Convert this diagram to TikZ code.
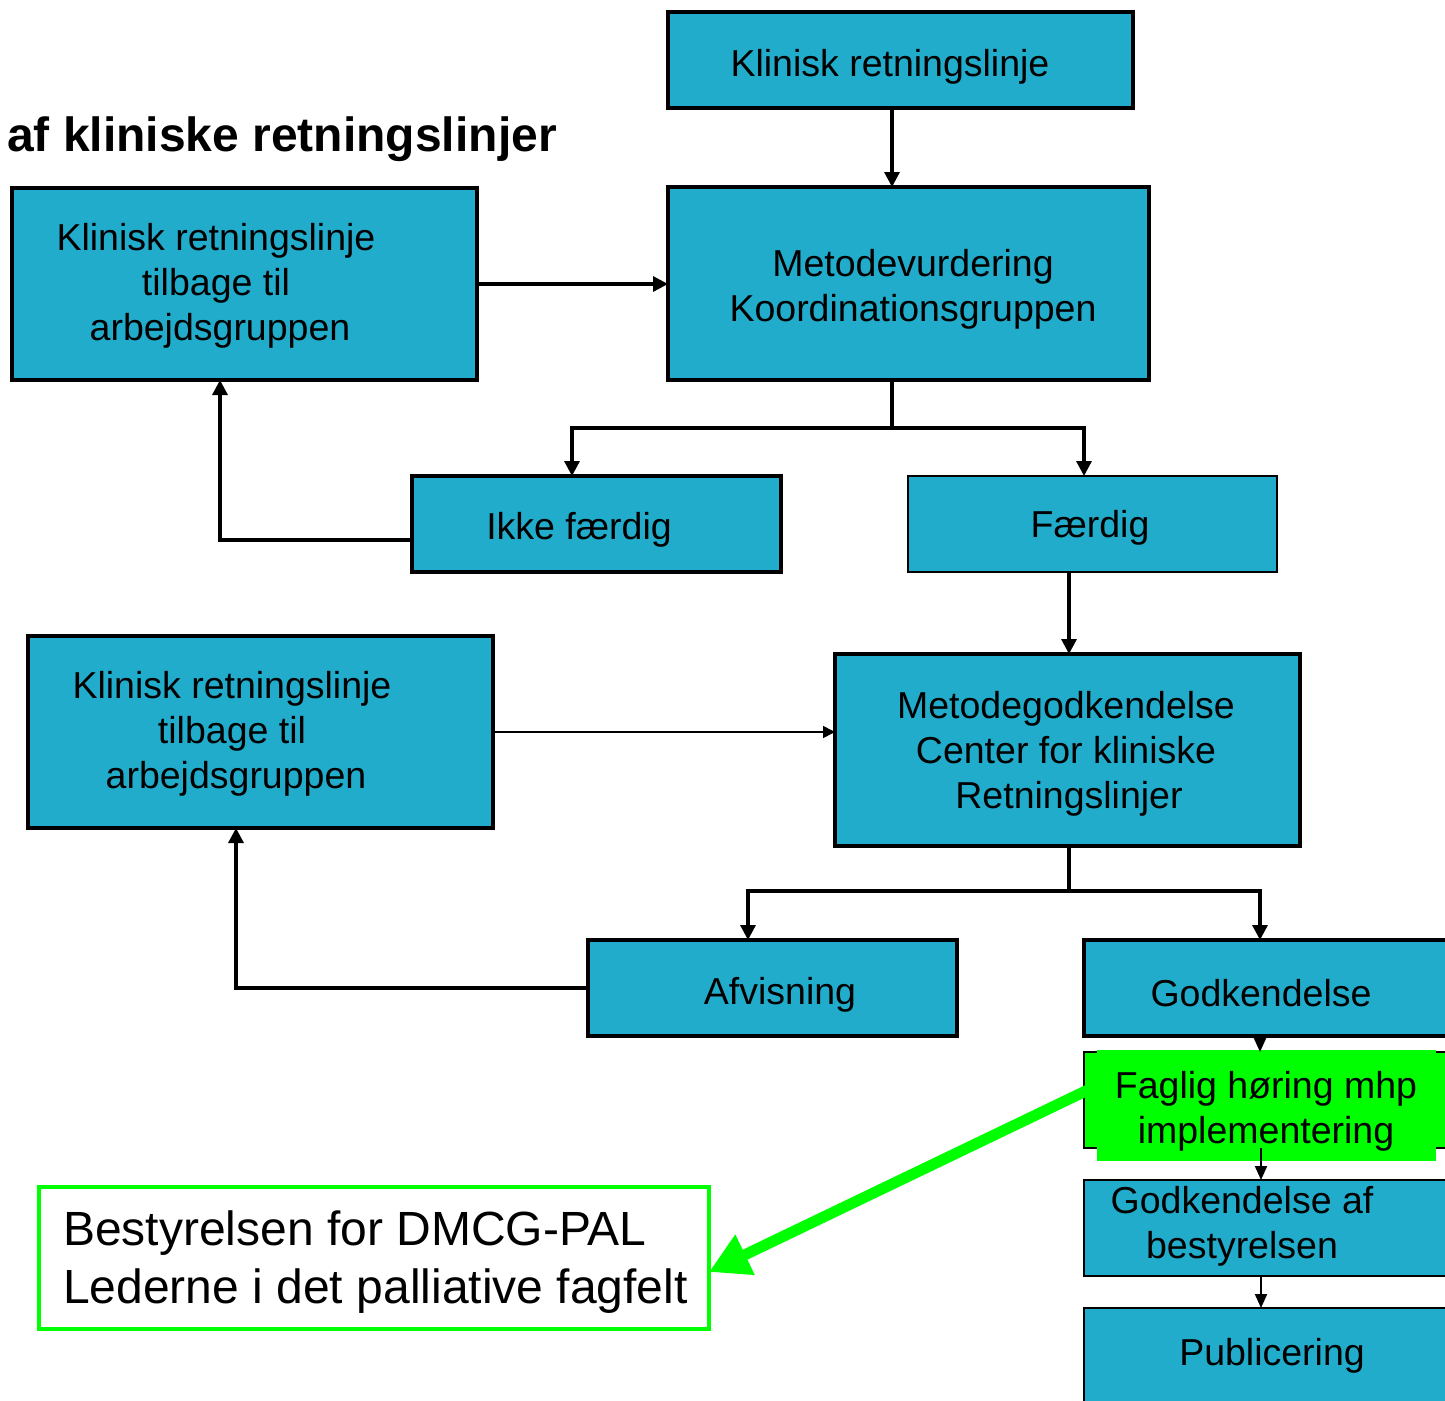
\documentclass[tikz,border=0pt]{standalone}
\usepackage{fontspec}
\setmainfont{Liberation Sans}
\usetikzlibrary{arrows.meta}
\definecolor{boxblue}{HTML}{22ACCB}
\definecolor{hgreen}{HTML}{00FF00}
\tikzset{
  box/.style={draw=black, line width=3.2pt, fill=boxblue, inner sep=0pt, outer sep=0pt},
  thinbox/.style={box, line width=2pt},
  txt/.style={inner sep=0pt, align=center, font=\fontsize{37.5}{45}\selectfont},
  conn/.style={line width=3.2pt},
  arr/.style={line width=3.2pt, -{Triangle[width=15pt,length=15pt]}},
  sarr/.style={line width=2pt, -{Triangle[width=12pt,length=14pt]}},
  tarr/.style={line width=1.5pt, -{Triangle[width=12pt,length=12pt]}},
  garr/.style={hgreen, line width=11pt, -{Triangle[width=42pt,length=40pt]}}
}
\begin{document}
\begin{tikzpicture}[x=1pt,y=-1pt]
\useasboundingbox (0,0) rectangle (1445,1400);
\clip (0,0) rectangle (1445,1400);
% title
\node[anchor=base west, inner sep=0pt, font=\fontsize{48}{55}\selectfont\bfseries] (title) at (7,151) {af kliniske retningslinjer};
% boxes
\node[box, minimum width=465pt, minimum height=96pt] (top) at (900.5,60) {};
\node[box, minimum width=481pt, minimum height=193pt] (mv) at (908.5,283.5) {};
\node[box, minimum width=465pt, minimum height=192pt] (lb1) at (244.5,284) {};
\node[box, minimum width=369pt, minimum height=96pt] (ikke) at (596.5,524) {};
\node[thinbox, minimum width=369pt, minimum height=96pt] (faerdig) at (1092.5,524) {};
\node[box, minimum width=465pt, minimum height=192pt] (lb2) at (260.5,732) {};
\node[box, minimum width=465pt, minimum height=192pt] (mg) at (1067.5,750) {};
\node[box, minimum width=369pt, minimum height=96pt] (afv) at (772.5,988) {};
\node[box, minimum width=369pt, minimum height=96pt] (godk) at (1268.5,988) {};
\node[thinbox, fill=hgreen, minimum width=369pt, minimum height=96pt] (faglig) at (1268.5,1100) {};
\fill[hgreen] (1097,1050) rectangle (1436,1161);
\node[thinbox, minimum width=369pt, minimum height=96pt] (gab) at (1268.5,1228) {};
\node[thinbox, minimum width=369pt, minimum height=140pt] (pub) at (1268.5,1378) {};
\node[draw=hgreen, line width=4.5pt, fill=white, inner sep=0pt, outer sep=0pt, minimum width=670pt, minimum height=142pt] (best) at (374,1258) {};
% texts
\node[txt] (ttop) at (890,67) {Klinisk retningslinje};
\node[txt] (tmv) at (913,289) {Metodevurdering\\Koordinationsgruppen};
\node[txt] (tlb1) at (216,286) {Klinisk retningslinje\\tilbage til\\\hspace*{8pt}arbejdsgruppen};
\node[txt] (tikke) at (579,530) {Ikke færdig};
\node[txt] (tfaerdig) at (1090,528) {Færdig};
\node[txt] (tlb2) at (232,734) {Klinisk retningslinje\\tilbage til\\\hspace*{8pt}arbejdsgruppen};
\node[txt] (tmg) at (1066,754) {Metodegodkendelse\\Center for kliniske\\\hspace*{6pt}Retningslinjer};
\node[txt] (tafv) at (780,995) {Afvisning};
\node[txt] (tgodk) at (1261,993) {Godkendelse};
\node[txt] (tfaglig) at (1266,1111) {Faglig høring mhp\\implementering};
\node[txt] (tgab) at (1242,1226) {Godkendelse af\\bestyrelsen};
\node[txt] (tpub) at (1272,1356) {Publicering};
\node[inner sep=0pt, anchor=west, align=left, font=\fontsize{48}{58}\selectfont] (tbest) at (63,1262) {Bestyrelsen for DMCG-PAL\\Lederne i det palliative fagfelt};
% connectors
\coordinate (x892) at (892,0);
\coordinate (s1) at (892,428);
\coordinate (s1l) at (572,428);
\coordinate (s1r) at (1084,428);
\coordinate (c1) at (220,540);
\coordinate (x1069) at (1069,0);
\coordinate (s2) at (1069,891);
\coordinate (s2l) at (748,891);
\coordinate (s2r) at (1260,891);
\coordinate (c2) at (236,988);
\coordinate (x1261) at (1261,0);
\draw[arr] (top.south -| x892) -- (mv.north -| x892);
\draw[arr] (lb1.east) -- (lb1.east -| mv.west);
\draw[conn] (mv.south -| s1) -- (s1);
\draw[arr] (s1) -- (s1l) -- (ikke.north -| s1l);
\draw[arr] (s1) -- (s1r) -- (faerdig.north -| s1r);
\draw[arr] (ikke.west |- c1) -- (c1) -- (lb1.south -| c1);
\draw[arr] (faerdig.south -| x1069) -- (mg.north -| x1069);
\draw[tarr] (lb2.east) -- (lb2.east -| mg.west);
\draw[conn] (mg.south -| s2) -- (s2);
\draw[arr] (s2) -- (s2l) -- (afv.north -| s2l);
\draw[arr] (s2) -- (s2r) -- (godk.north -| s2r);
\draw[arr] (afv.west |- c2) -- (c2) -- (lb2.south -| c2);
\draw[sarr] (godk.south -| s2r) -- (faglig.north -| s2r);
\draw[sarr] (faglig.south -| x1261) -- (gab.north -| x1261);
\draw[sarr] (gab.south -| x1261) -- (pub.north -| x1261);
\coordinate (gs) at (1092,1088);
\draw[garr] (gs) -- (best.east |- 0,1272);
\end{tikzpicture}
\end{document}
